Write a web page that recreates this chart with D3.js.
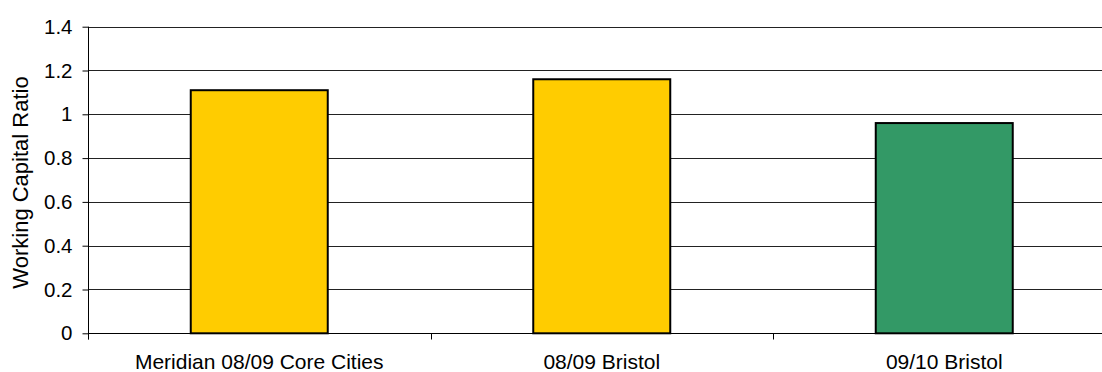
<!DOCTYPE html>
<html>
<head>
<meta charset="utf-8">
<script src="https://cdn.jsdelivr.net/npm/d3@7"></script>
<style>
  html, body { margin: 0; padding: 0; background: #fff; }
  svg { display: block; font-family: "Liberation Sans", Arial, sans-serif; }
</style>
</head>
<body>
<svg id="chart" width="1102" height="372"></svg>
<script>
// Working capital ratio by period
const categories = ["Meridian 08/09 Core Cities", "08/09 Bristol", "09/10 Bristol"];
const ratios = [1.11, 1.16, 0.96];
const barColors = ["#FFCC00", "#FFCC00", "#339966"];
const yTicks = [0, 0.2, 0.4, 0.6, 0.8, 1, 1.2, 1.4];
const yTitle = "Working Capital Ratio";

const svg = d3.select("#chart");
const plotLeft = 88, plotRight = 1115.5, plotTop = 26.7, plotBottom = 333.3;

const x = d3.scaleBand()
  .domain(categories)
  .range([plotLeft, plotRight])
  .paddingInner(0.6)
  .paddingOuter(0.3);

const y = d3.scaleLinear().domain([0, 1.4]).range([plotBottom, plotTop]);

// horizontal gridlines
svg.append("g")
  .selectAll("line")
  .data(yTicks.filter(d => d > 0))
  .join("line")
  .attr("x1", plotLeft).attr("x2", 1102)
  .attr("y1", d => Math.round(y(d)) + 0.5)
  .attr("y2", d => Math.round(y(d)) + 0.5)
  .attr("stroke", "#222")
  .attr("stroke-width", 1);

// bars
svg.append("g")
  .selectAll("rect")
  .data(categories)
  .join("rect")
  .attr("x", d => x(d))
  .attr("width", x.bandwidth())
  .attr("y", (d, i) => y(ratios[i]))
  .attr("height", (d, i) => y(0) - y(ratios[i]))
  .attr("fill", (d, i) => barColors[i])
  .attr("stroke", "#000")
  .attr("stroke-width", 2);

// y axis
const yAxis = svg.append("g")
  .attr("transform", `translate(${plotLeft + 0.5},0)`)
  .call(d3.axisLeft(y).tickValues(yTicks).tickFormat(d3.format("~g")).tickSize(6).tickPadding(10));
yAxis.select(".domain").attr("stroke", "#000").attr("d", `M0,${plotTop}V${plotBottom + 6}`);
yAxis.selectAll(".tick line").attr("stroke", "#000");
yAxis.selectAll("text").attr("font-size", 20.5).attr("fill", "#000")
  .attr("font-family", "Liberation Sans, Arial, sans-serif");

// x axis: labels centred in each band, tick marks on band boundaries
const xAxis = svg.append("g")
  .attr("transform", `translate(0,${Math.round(plotBottom) + 0.5})`)
  .call(d3.axisBottom(x).tickSize(0).tickPadding(21));
xAxis.select(".domain").attr("stroke", "#000").attr("d", `M${plotLeft},0H1102`);
xAxis.selectAll("text").attr("font-size", 21).attr("fill", "#000")
  .attr("font-family", "Liberation Sans, Arial, sans-serif");

const boundaries = d3.range(categories.length + 1).map(i => plotLeft + i * x.step());
xAxis.selectAll(".bound")
  .data(boundaries)
  .join("line")
  .attr("class", "bound")
  .attr("x1", d => Math.round(d) + 0.5).attr("x2", d => Math.round(d) + 0.5)
  .attr("y1", 0).attr("y2", 6)
  .attr("stroke", "#000");

// y axis title
svg.append("text")
  .attr("transform", "translate(28,182.5) rotate(-90)")
  .attr("text-anchor", "middle")
  .attr("font-size", 22)
  .attr("fill", "#000")
  .text(yTitle);
</script>
</body>
</html>
